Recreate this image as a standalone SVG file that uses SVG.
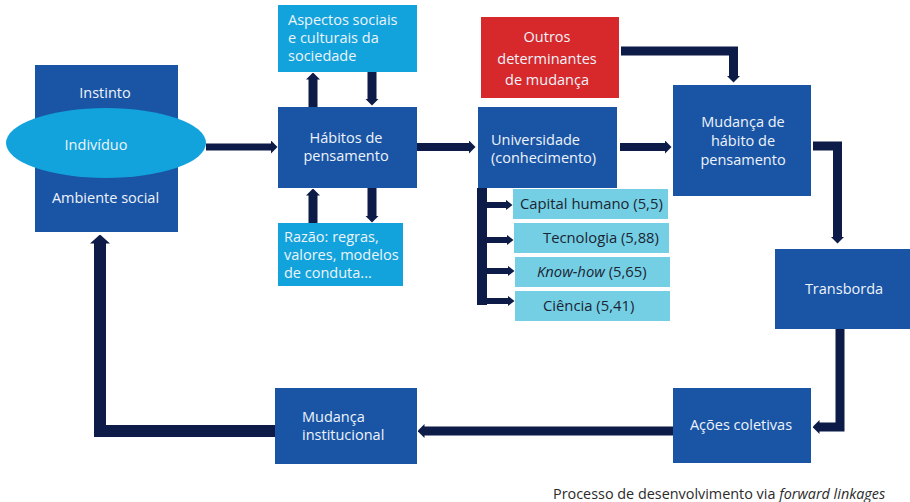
<svg xmlns="http://www.w3.org/2000/svg" width="910" height="502" viewBox="0 0 910 502">
<style>
text{font-family:"Open Sans","Liberation Sans",sans-serif;font-size:14.5px}
.dk{fill:#1a55a5}
.lb{fill:#12a3dc}
.rd{fill:#d7282b}
.cy{fill:#74cfe4}
.wt{fill:#eef3fa}
.bt{fill:#1b2533;font-size:14.8px}
.c{text-anchor:middle}
.ln{fill:none;stroke:#0c1b47;stroke-linejoin:miter}
.ah{fill:#0c1b47}
</style>
<defs>
<marker id="ah" viewBox="0 0 7 14" markerWidth="7" markerHeight="14" refX="0.5" refY="7" markerUnits="userSpaceOnUse" orient="auto"><path class="ah" d="M0,0 L7,7 L0,14 Z"/></marker>
<marker id="ahL" viewBox="0 0 9 20" markerWidth="9" markerHeight="20" refX="0.5" refY="10" markerUnits="userSpaceOnUse" orient="auto"><path class="ah" d="M0,0 L9,10 L0,20 Z"/></marker>
<marker id="ahS" viewBox="0 0 7 11" markerWidth="7" markerHeight="11" refX="0.5" refY="5.5" markerUnits="userSpaceOnUse" orient="auto"><path class="ah" d="M0,0 L7,5.5 L0,11 Z"/></marker>
</defs>

<g id="connectors">
<path class="ln" stroke-width="7" marker-end="url(#ah)" d="M206,147 H271"/>
<path class="ln" stroke-width="9" marker-end="url(#ah)" d="M313,107 V79"/>
<path class="ln" stroke-width="9" marker-end="url(#ah)" d="M372,72 V99"/>
<path class="ln" stroke-width="9" marker-end="url(#ah)" d="M313,223 V195"/>
<path class="ln" stroke-width="9" marker-end="url(#ah)" d="M372,188 V216"/>
<path class="ln" stroke-width="8" marker-end="url(#ah)" d="M417,147 H469"/>
<path class="ln" stroke-width="8" marker-end="url(#ah)" d="M620,147 H665"/>
<path class="ln" stroke-width="9" marker-end="url(#ah)" d="M621,51 H733.5 V76"/>
<path class="ln" stroke-width="9" marker-end="url(#ah)" d="M813,146 H837.5 V237"/>
<path class="ln" stroke-width="9" marker-end="url(#ah)" d="M840,329 V427 H819"/>
<path class="ln" stroke-width="9" marker-end="url(#ah)" d="M673,431 H424"/>
<path class="ln" stroke-width="12" marker-end="url(#ahL)" d="M275,431 H100 V243"/>
<path class="ln" stroke-width="10" d="M482,188 V305"/>
<path class="ln" stroke-width="6" marker-end="url(#ahS)" d="M487,205 H506"/>
<path class="ln" stroke-width="6" marker-end="url(#ahS)" d="M487,240 H507"/>
<path class="ln" stroke-width="6" marker-end="url(#ahS)" d="M487,271 H508"/>
<path class="ln" stroke-width="6" marker-end="url(#ahS)" d="M487,301 H508"/>
</g>

<g id="individuo">
<rect class="dk" x="35" y="65" width="143" height="167"/>
<ellipse class="lb" cx="106" cy="143" rx="100" ry="35"/>
<text class="wt c" x="105" y="98">Instinto</text>
<text class="wt c" x="96" y="150">Indivíduo</text>
<text class="wt c" x="105.5" y="203">Ambiente social</text>
</g>

<g id="aspectos">
<rect class="lb" x="278" y="5" width="139" height="67"/>
<text class="wt" x="288" y="25">Aspectos sociais</text>
<text class="wt" x="288" y="43">e culturais da</text>
<text class="wt" x="288" y="61">sociedade</text>
</g>

<g id="habitos">
<rect class="dk" x="278" y="107" width="139" height="81"/>
<text class="wt c" x="346" y="143">Hábitos de</text>
<text class="wt c" x="346" y="161">pensamento</text>
</g>

<g id="razao">
<rect class="lb" x="278" y="223" width="125" height="63"/>
<text class="wt" x="284" y="242">Razão: regras,</text>
<text class="wt" x="284" y="260">valores, modelos</text>
<text class="wt" x="284" y="278">de conduta...</text>
</g>

<g id="outros">
<rect class="rd" x="481" y="17" width="138" height="81"/>
<text class="wt c" x="547" y="42">Outros</text>
<text class="wt c" x="547" y="64">determinantes</text>
<text class="wt c" x="547" y="85">de mudança</text>
</g>

<g id="universidade">
<rect class="dk" x="478" y="107" width="139" height="81"/>
<text class="wt" x="491" y="145">Universidade</text>
<text class="wt" x="491" y="163">(conhecimento)</text>
</g>

<g id="capital">
<rect class="cy" x="513" y="189" width="155" height="30"/>
<text class="bt" x="520" y="209">Capital humano (5,5)</text>
</g>
<g id="tecnologia">
<rect class="cy" x="514" y="223" width="155" height="30"/>
<text class="bt" x="543" y="243">Tecnologia (5,88)</text>
</g>
<g id="knowhow">
<rect class="cy" x="515" y="257" width="155" height="30"/>
<text class="bt" x="537" y="277"><tspan font-style="italic">Know-how</tspan> (5,65)</text>
</g>
<g id="ciencia">
<rect class="cy" x="515" y="291" width="155" height="30"/>
<text class="bt" x="543" y="311">Ciência (5,41)</text>
</g>

<g id="mudanca-habito">
<rect class="dk" x="673" y="85" width="138" height="111"/>
<text class="wt c" x="743" y="127">Mudança de</text>
<text class="wt c" x="743" y="146">hábito de</text>
<text class="wt c" x="743" y="165">pensamento</text>
</g>

<g id="transborda">
<rect class="dk" x="775" y="249" width="135" height="80"/>
<text class="wt c" x="844" y="294">Transborda</text>
</g>

<g id="acoes">
<rect class="dk" x="673" y="388" width="138" height="75"/>
<text class="wt c" x="741" y="430">Ações coletivas</text>
</g>

<g id="mudanca-institucional">
<rect class="dk" x="275" y="388" width="142" height="76"/>
<text class="wt" x="302" y="422">Mudança</text>
<text class="wt" x="302" y="440">institucional</text>
</g>

<text x="553" y="499" style="fill:#2b2b2b;font-size:14.4px">Processo de desenvolvimento via <tspan font-style="italic">forward linkages</tspan></text>
</svg>
